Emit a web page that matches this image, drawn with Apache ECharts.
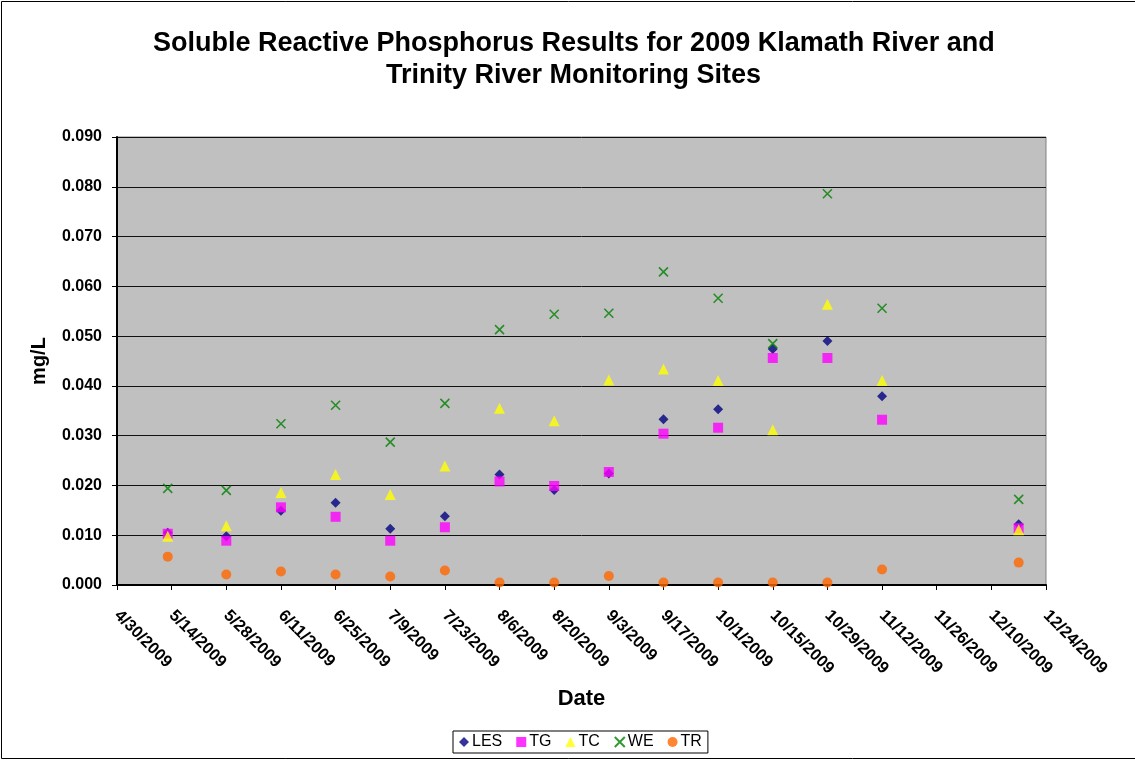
<!DOCTYPE html>
<html>
<head>
<meta charset="utf-8">
<script src="https://cdn.jsdelivr.net/npm/echarts@6/dist/echarts.min.js"></script>
<style>
html,body{margin:0;padding:0;background:#fff;}
#chart{width:1135px;height:761px;}
</style>
</head>
<body>
<div id="chart"></div>
<script>
// Sample dates
const dates = ['2009-05-13','2009-05-28','2009-06-11','2009-06-25','2009-07-09','2009-07-23','2009-08-06','2009-08-20','2009-09-03','2009-09-17','2009-10-01','2009-10-15','2009-10-29','2009-11-12','2009-12-17'];
// Series values (mg/L)
const LES = [0.0105, 0.0098, 0.0149, 0.0165, 0.0113, 0.0138, 0.0222, 0.0191, 0.0224, 0.0333, 0.0353, 0.0474, 0.0490, 0.0379, 0.0122];
const TG  = [0.0103, 0.0089, 0.0156, 0.0137, 0.0089, 0.0116, 0.0208, 0.0199, 0.0227, 0.0304, 0.0316, 0.0456, 0.0456, 0.0332, 0.0114];
const TC  = [0.0098, 0.0119, 0.0186, 0.0222, 0.0182, 0.0239, 0.0355, 0.0330, 0.0412, 0.0434, 0.0411, 0.0312, 0.0564, 0.0411, 0.0111];
const WE  = [0.0194, 0.0190, 0.0324, 0.0361, 0.0287, 0.0365, 0.0513, 0.0544, 0.0546, 0.0629, 0.0576, 0.0485, 0.0786, 0.0556, 0.0172];
const TR  = [0.0057, 0.0021, 0.0027, 0.0021, 0.0017, 0.0029, 0.0005, 0.0005, 0.0018, 0.0005, 0.0005, 0.0005, 0.0005, 0.0031, 0.0045];
// Axis range (dates) and tick step (days)
const xStart = '2009-04-30';
const xEnd = '2009-12-24';
const xStepDays = 14;
// Title lines
const titleLines = ['Soluble Reactive Phosphorus Results for 2009 Klamath River and', 'Trinity River Monitoring Sites'];

const DAY = 86400000;
function toDay(s){ const p = s.split('-').map(Number); return Math.round(Date.UTC(p[0], p[1]-1, p[2]) / DAY); }
function fmtDay(d){ const t = new Date(d * DAY); return (t.getUTCMonth()+1) + '/' + t.getUTCDate() + '/' + t.getUTCFullYear(); }
function pts(vals){ return dates.map((d,i)=>[toDay(d), vals[i]]); }

const FONT = "'Liberation Sans', Arial, sans-serif";
const chart = echarts.init(document.getElementById('chart'), null, {renderer:'canvas'});
const mk = (name, vals, symbol, size, color, extra) => Object.assign({
  name, type:'scatter', data: pts(vals), symbol, symbolSize: size,
  itemStyle:{color}, emphasis:{disabled:true}
}, extra || {});
const titleStyle = {fontFamily:FONT, fontSize:27, fontWeight:'bold', color:'#000', lineHeight:32};

chart.setOption({
  animation:false,
  backgroundColor:'#fff',
  textStyle:{fontFamily:FONT},
  title:[
    {text:titleLines[0], left:153, top:28, padding:0, textStyle:titleStyle},
    {text:titleLines[1], left:386, top:60, padding:0, textStyle:titleStyle}
  ],
  grid:{left:117, right:89, top:137, bottom:176, show:true, backgroundColor:'#c0c0c0', borderColor:'#808080', borderWidth:1, containLabel:false},
  xAxis:{
    type:'value', min:toDay(xStart), max:toDay(xEnd), interval:xStepDays,
    name:'Date', nameLocation:'middle', nameGap:103,
    nameTextStyle:{fontFamily:FONT, fontSize:22, fontWeight:'bold', color:'#000'},
    axisLine:{show:true, onZero:false, lineStyle:{color:'#000', width:2}},
    axisTick:{show:true, length:5, lineStyle:{color:'#000'}},
    splitLine:{show:false},
    axisLabel:{rotate:-45, margin:28, formatter:v=>fmtDay(v), fontFamily:FONT, fontSize:16.5, fontWeight:'bold', color:'#000', showMinLabel:true, showMaxLabel:true, hideOverlap:false}
  },
  yAxis:{
    type:'value', min:0, max:0.09, interval:0.01,
    name:'mg/L', nameLocation:'middle', nameGap:68, nameRotate:90,
    nameTextStyle:{fontFamily:FONT, fontSize:20, fontWeight:'bold', color:'#000'},
    axisLine:{show:true, lineStyle:{color:'#000', width:2}},
    axisTick:{show:true, length:5, lineStyle:{color:'#000'}},
    splitLine:{show:true, lineStyle:{color:'#111', width:1}},
    axisLabel:{formatter:v=>v.toFixed(3), margin:15, fontFamily:FONT, fontSize:16, fontWeight:'bold', color:'#000'}
  },
  legend:{
    left:453, top:731, orient:'horizontal', padding:[3,6], itemGap:14,
    itemWidth:10, itemHeight:10,
    borderColor:'#000', borderWidth:1, backgroundColor:'#fff',
    textStyle:{fontFamily:FONT, fontSize:16, color:'#000', padding:[0,0,0,-2]},
    data:['LES','TG','TC','WE','TR']
  },
  graphic:[{type:'rect', silent:true, z:-10, shape:{x:1.5, y:1.5, width:1140, height:757}, style:{fill:'none', stroke:'#000', lineWidth:1}}],
  series:[
    mk('LES', LES, 'diamond', 10, '#000080'),
    mk('TG', TG, 'rect', 10, '#ff00ff'),
    mk('TC', TC, 'triangle', 11, '#ffff00'),
    mk('WE', WE, 'path://M0,0L10,10M10,0L0,10', 9, '#008000', {itemStyle:{color:'#008000', borderColor:'#008000', borderWidth:1.6}}),
    mk('TR', TR, 'circle', 10, '#ff6600')
  ]
});
</script>
</body>
</html>
